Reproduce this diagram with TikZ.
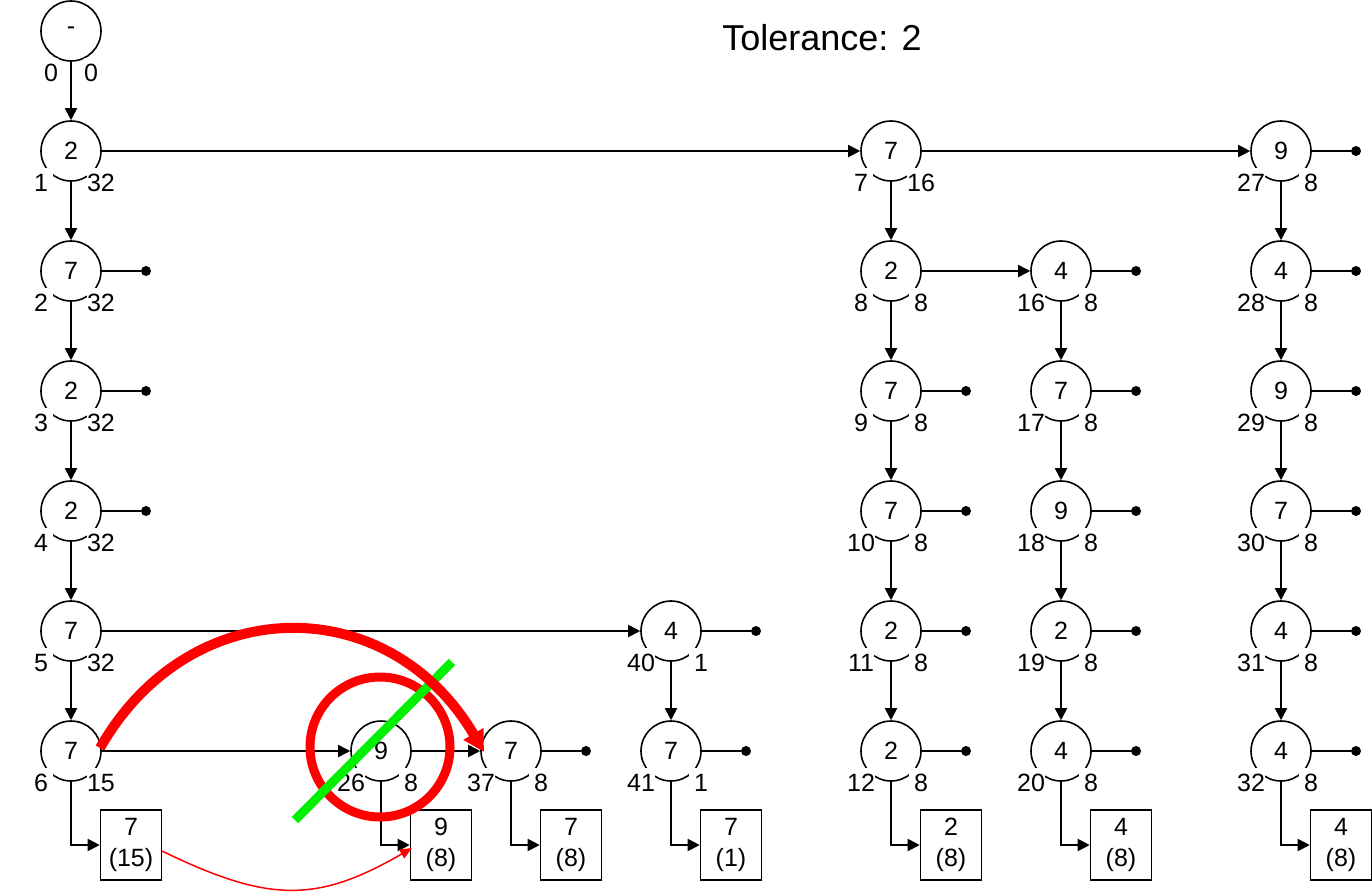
\documentclass[tikz,border=0pt]{standalone}
\usepackage{fontspec}
\setmainfont{Liberation Sans}
\usetikzlibrary{arrows.meta}
\definecolor{myred}{RGB}{255,0,0}
\definecolor{mygreen}{RGB}{0,240,0}
\newcommand{\mknode}[6]{%
  \node[cn] (#1) at (#2,#3) {#4};
  \node[lab] (#1l) at (#2-30,#3+32) {#5};
  \node[lab] (#1r) at (#2+30,#3+32) {#6};}
\begin{document}
\begin{tikzpicture}[x=1pt,y=-1pt,
  cn/.style={circle,draw,line width=1.6pt,minimum size=60pt,inner sep=0pt,font=\fontsize{25}{25}\selectfont},
  lab/.style={fill=white,inner sep=0pt,minimum width=24pt,minimum height=30pt,font=\fontsize{25}{25}\selectfont},
  bx/.style={draw,line width=1.6pt,minimum width=61pt,minimum height=70pt,inner sep=0pt,align=center,font=\fontsize{25}{31}\selectfont},
  dot/.style={circle,fill,inner sep=0pt,minimum size=10pt},
  conn/.style={line width=1.9pt,-{Triangle[length=12pt,width=12pt]}},
  plain/.style={line width=1.9pt},
  bigred/.style={myred,line width=10pt},
]
\useasboundingbox (0,0) rectangle (1372,892);

\node[font=\fontsize{36}{36}\selectfont] (title) at (822,38) {Tolerance: 2};

% root
\node[cn] (r) at (71,31) {-};
\node[lab,minimum width=12pt] (rl) at (51,73) {0};
\node[lab,minimum width=12pt] (rr) at (91,73) {0};

% column A
\mknode{a1}{71}{151}{2}{1}{32}
\mknode{a2}{71}{271}{7}{2}{32}
\mknode{a3}{71}{391}{2}{3}{32}
\mknode{a4}{71}{511}{2}{4}{32}
\mknode{a5}{71}{631}{7}{5}{32}
\mknode{a6}{71}{751}{7}{6}{15}
\mknode{m1}{381}{751}{9}{26}{8}
\mknode{m2}{511}{751}{7}{37}{8}
\mknode{p1}{671}{631}{4}{40}{1}
\mknode{p2}{671}{751}{7}{41}{1}
% column B
\mknode{b1}{891}{151}{7}{7}{16}
\mknode{b2}{891}{271}{2}{8}{8}
\mknode{b3}{891}{391}{7}{9}{8}
\mknode{b4}{891}{511}{7}{10}{8}
\mknode{b5}{891}{631}{2}{11}{8}
\mknode{b6}{891}{751}{2}{12}{8}
% column C
\mknode{c1}{1061}{271}{4}{16}{8}
\mknode{c2}{1061}{391}{7}{17}{8}
\mknode{c3}{1061}{511}{9}{18}{8}
\mknode{c4}{1061}{631}{2}{19}{8}
\mknode{c5}{1061}{751}{4}{20}{8}
% column D
\mknode{d1}{1281}{151}{9}{27}{8}
\mknode{d2}{1281}{271}{4}{28}{8}
\mknode{d3}{1281}{391}{9}{29}{8}
\mknode{d4}{1281}{511}{7}{30}{8}
\mknode{d5}{1281}{631}{4}{31}{8}
\mknode{d6}{1281}{751}{4}{32}{8}

% boxes
\node[bx] (x1) at (131,845) {7\\(15)};
\node[bx] (x2) at (441,845) {9\\(8)};
\node[bx] (x3) at (571,845) {7\\(8)};
\node[bx] (x4) at (731,845) {7\\(1)};
\node[bx] (x5) at (951,845) {2\\(8)};
\node[bx] (x6) at (1121,845) {4\\(8)};
\node[bx] (x7) at (1341,845) {4\\(8)};

% dots
\node[dot] (ea2) at (146,271) {};
\node[dot] (ea3) at (146,391) {};
\node[dot] (ea4) at (146,511) {};
\node[dot] (em2) at (586,751) {};
\node[dot] (ep1) at (756,631) {};
\node[dot] (ep2) at (746,751) {};
\node[dot] (eb3) at (966,391) {};
\node[dot] (eb4) at (966,511) {};
\node[dot] (eb5) at (966,631) {};
\node[dot] (eb6) at (966,751) {};
\node[dot] (ec1) at (1136,271) {};
\node[dot] (ec2) at (1136,391) {};
\node[dot] (ec3) at (1136,511) {};
\node[dot] (ec4) at (1136,631) {};
\node[dot] (ec5) at (1136,751) {};
\node[dot] (ed1) at (1356,151) {};
\node[dot] (ed2) at (1356,271) {};
\node[dot] (ed3) at (1356,391) {};
\node[dot] (ed4) at (1356,511) {};
\node[dot] (ed5) at (1356,631) {};
\node[dot] (ed6) at (1356,751) {};

% vertical arrows
\foreach \u/\v in {r/a1,a1/a2,a2/a3,a3/a4,a4/a5,a5/a6,p1/p2,
  b1/b2,b2/b3,b3/b4,b4/b5,b5/b6,c1/c2,c2/c3,c3/c4,c4/c5,
  d1/d2,d2/d3,d3/d4,d4/d5,d5/d6}
  \draw[conn] (\u.south) -- (\v.north);
% horizontal arrows
\foreach \u/\v in {a1/b1,b1/d1,b2/c1,a5/p1,a6/m1,m1/m2}
  \draw[conn] (\u.east) -- (\v.west);
% to dots
\foreach \u in {a2,a3,a4,m2,p1,p2,b3,b4,b5,b6,c1,c2,c3,c4,c5,d1,d2,d3,d4,d5,d6}
  \draw[plain] (\u.east) -- (e\u);
% to boxes
\foreach \u/\v in {a6/x1,m1/x2,m2/x3,p2/x4,b6/x5,c5/x6,d6/x7}
  \draw[conn] (\u.south) |- (\v.west);

% annotations
\coordinate (rc) at (380,747);
\draw[myred,line width=9pt] (rc) circle[radius=70pt];
\coordinate (g1) at (295,820);
\coordinate (g2) at (452,662);
\draw[mygreen,line width=9pt] (g1) -- (g2);
\coordinate (rs) at (100,748);
\coordinate (re) at (484,752);
\draw[bigred,-{Triangle[length=21pt,width=22pt]}] (rs) .. controls (190,590) and (389,590) .. (re);
\coordinate (ts) at (162,851);
\coordinate (te) at (412,848);
\draw[myred,line width=1.5pt,-{Triangle[length=12pt,width=10pt]}] (ts) .. controls (269,903) and (317,903) .. (te);
\end{tikzpicture}
\end{document}
